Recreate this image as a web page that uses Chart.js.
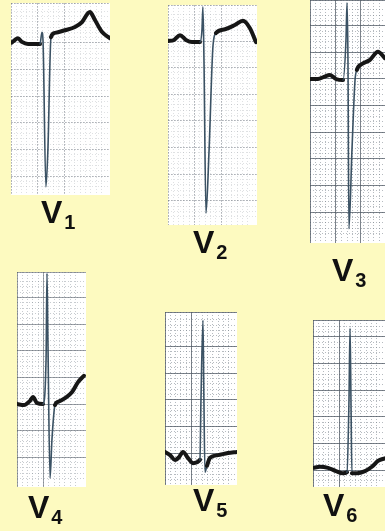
<!DOCTYPE html>
<html>
<head>
<meta charset="utf-8">
<script src="https://cdn.jsdelivr.net/npm/chart.js@4"></script>
<style>
  html, body { margin: 0; padding: 0; }
  body { width: 385px; height: 531px; background: #fdfac0; position: relative; overflow: hidden;
         font-family: "Liberation Sans", Arial, sans-serif; }
  .panel { position: absolute; background: #fff; }
  .panel canvas { display: block; }
  .lbl { position: absolute; font-weight: bold; font-size: 32px; line-height: 32px; color: #111; white-space: nowrap; }
  .lbl span { font-size: 20px; position: relative; top: 6px; margin-left: 2px; }
</style>
</head>
<body>
<script>
// leads, paper speed 25 mm/s, gain 10 mm/mV
const leads = ['V1', 'V2', 'V3', 'V4', 'V5', 'V6'];

const v1Time = [0, 22, 52, 82, 128, 218, 232, 240, 262, 277, 300, 330, 405, 480, 532, 592, 630, 682, 742];
const v1mV   = [0, 0.04, 0.09, 0.02, -0.02, -0.02, 0.2, 0.06, -2.7, -2.0, 0.11, 0.19, 0.24, 0.3, 0.39, 0.58, 0.43, 0.21, 0.09];

const v2Time = [0, 45, 90, 135, 180, 240, 255, 262, 270, 285, 308, 338, 360, 428, 502, 562, 615, 660];
const v2mV   = [0, 0.02, 0.11, 0.02, -0.02, -0.02, 0.21, 0.64, -0.36, -3.23, -2.06, -0.08, 0.15, 0.22, 0.3, 0.38, 0.24, -0.02];

const v3Time = [0, 60, 105, 150, 195, 248, 270, 278, 285, 292, 315, 338, 352, 390, 450, 510, 562];
const v3mV   = [0, 0, 0.04, 0.075, 0, -0.02, 0.73, 1.43, 0.36, -2.81, -1.33, -0.02, 0.17, 0.28, 0.36, 0.51, 0.39];

const v4Time = [0, 52, 98, 120, 150, 195, 218, 225, 232, 248, 262, 285, 308, 360, 412, 458, 502];
const v4mV   = [0, -0.02, 0.06, 0.13, 0.02, 0, 0.83, 2.45, 1.2, -1.39, -0.68, -0.02, 0.04, 0.11, 0.22, 0.41, 0.53];

const v5Time = [0, 38, 75, 105, 135, 172, 210, 262, 270, 285, 292, 300, 315, 338, 398, 472, 540];
const v5mV   = [0.02, -0.04, -0.13, -0.08, 0.02, -0.09, -0.19, -0.13, 1.0, 2.49, 1.0, -0.36, -0.24, -0.09, -0.04, 0, 0.02];

const v6Time = [0, 52, 112, 172, 225, 255, 270, 278, 285, 292, 330, 390, 442, 488, 540];
const v6mV   = [0.04, 0.06, 0.04, -0.02, -0.06, -0.04, 1.31, 2.66, 1.31, -0.06, -0.06, -0.02, 0.06, 0.17, 0.22];

const traces = [
  [v1Time, v1mV], [v2Time, v2mV], [v3Time, v3mV],
  [v4Time, v4mV], [v5Time, v5mV], [v6Time, v6mV]
];

// where each strip sits on the page
const PX_PER_MM = 5.33;
const MS_PER_PX = 40 / PX_PER_MM;
const MV_PER_PX = 0.1 / PX_PER_MM;

const panels = [
  { left: 11,  top: 3,   w: 99, h: 192, base: 40,  grid: 0.45, lbl: [41, 196] },
  { left: 168, top: 5,   w: 89, h: 220, base: 36,  grid: 0.45, lbl: [193, 226] },
  { left: 310, top: 0,   w: 75, h: 243, base: 79,  grid: 1.0,  lbl: [332, 254] },
  { left: 17,  top: 272, w: 69, h: 215, base: 132, grid: 0.75, lbl: [28, 491] },
  { left: 165, top: 312, w: 72, h: 173, base: 141, grid: 1.0,  lbl: [193, 484] },
  { left: 313, top: 320, w: 72, h: 167, base: 150, grid: 1.0,  lbl: [323, 489] }
];

const steep = c => {
  const dx = (c.p1.parsed.x - c.p0.parsed.x) / MS_PER_PX;
  const dy = Math.abs(c.p1.parsed.y - c.p0.parsed.y) / MV_PER_PX;
  return dy > 3 * dx;
};

function gridAxis(min, max, step, color, dash, lw) {
  return {
    type: 'linear', min, max, display: true,
    ticks: { display: false, stepSize: step, autoSkip: false },
    grid: { color, lineWidth: lw, drawTicks: false },
    border: { display: false, dash }
  };
}

leads.forEach((lead, i) => {
  const p = panels[i];
  const div = document.createElement('div');
  div.className = 'panel';
  div.style.left = p.left + 'px';
  div.style.top = p.top + 'px';
  div.style.width = p.w + 'px';
  div.style.height = p.h + 'px';
  const cv = document.createElement('canvas');
  cv.width = p.w;
  cv.height = p.h;
  div.appendChild(cv);
  document.body.appendChild(div);

  const xMax = p.w * MS_PER_PX;
  const yMax = p.base * MV_PER_PX;
  const yMin = -(p.h - p.base) * MV_PER_PX;
  const a = p.grid;
  const minorCol = `rgba(110,120,130,${0.5 * a})`;
  const majorCol = `rgba(80,90,100,${0.75 * a})`;
  const majDash = a < 0.6 ? [2, 1] : [];

  const [times, mv] = traces[i];

  new Chart(cv, {
    type: 'line',
    data: {
      datasets: [{
        label: lead,
        data: times.map((t, k) => ({ x: t, y: mv[k] })),
        borderColor: '#161616',
        borderWidth: 4,
        borderCapStyle: 'round',
        borderJoinStyle: 'round',
        pointRadius: 0,
        cubicInterpolationMode: 'monotone',
        segment: {
          borderWidth: c => steep(c) ? 1.6 : 4,
          borderColor: c => steep(c) ? '#3b5264' : '#161616'
        }
      }]
    },
    options: {
      responsive: false,
      animation: false,
      events: [],
      layout: { padding: 0 },
      plugins: { legend: { display: false }, tooltip: { enabled: false } },
      scales: {
        x: gridAxis(0, xMax, 40, minorCol, [1, 2], 1),
        y: gridAxis(yMin, yMax, 0.1, minorCol, [1, 2], 1),
        xMaj: { ...gridAxis(0, xMax, 200, majorCol, majDash, 1), position: 'bottom' },
        yMaj: { ...gridAxis(yMin, yMax, 0.5, majorCol, majDash, 1), position: 'left' }
      }
    }
  });

  const lbl = document.createElement('div');
  lbl.className = 'lbl';
  lbl.style.left = p.lbl[0] + 'px';
  lbl.style.top = p.lbl[1] + 'px';
  lbl.innerHTML = lead[0] + '<span>' + lead.slice(1) + '</span>';
  document.body.appendChild(lbl);
});
</script>
</body>
</html>
